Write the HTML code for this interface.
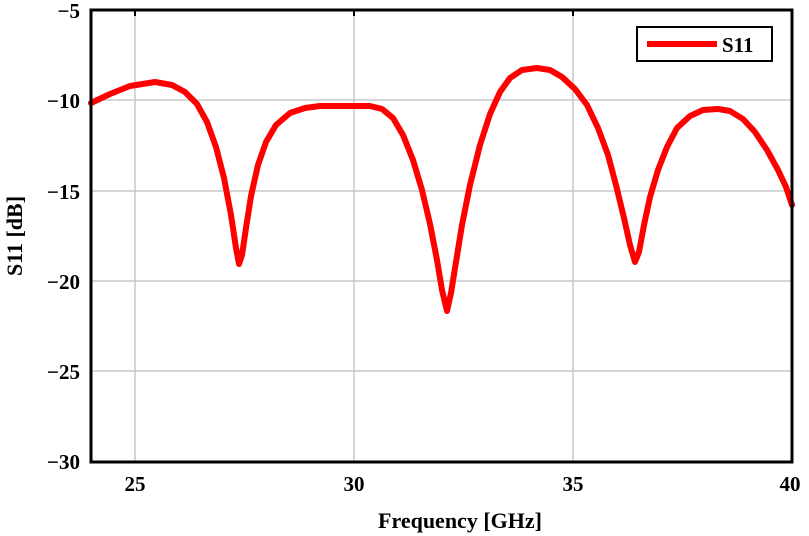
<!DOCTYPE html>
<html><head><meta charset="utf-8"><style>
html,body{margin:0;padding:0;background:#fff;}
svg{display:block;}
text{font-family:"Liberation Serif",serif;font-weight:bold;fill:#000;}
</style></head><body>
<svg width="809" height="536" viewBox="0 0 809 536" xmlns="http://www.w3.org/2000/svg">
<g stroke="#c8c8c8" stroke-width="1.5">
<line x1="135" y1="10" x2="135" y2="462"/>
<line x1="354" y1="10" x2="354" y2="462"/>
<line x1="573" y1="10" x2="573" y2="462"/>
<line x1="91" y1="100" x2="792" y2="100"/>
<line x1="91" y1="191" x2="792" y2="191"/>
<line x1="91" y1="281" x2="792" y2="281"/>
<line x1="91" y1="371" x2="792" y2="371"/>
</g>
<g stroke="#000" stroke-width="2">
<line x1="135" y1="10" x2="135" y2="16"/>
<line x1="354" y1="10" x2="354" y2="16"/>
<line x1="573" y1="10" x2="573" y2="16"/>
</g>
<polyline fill="none" stroke="#ff0000" stroke-width="6" stroke-linejoin="round" stroke-linecap="round"
points="91,103 110,94 130,86 155,82 172,85 185,92 197,104 207,122 216,147 224,178 231,215 236,248 239,264 242,255 246,228 251,196 258,165 266,142 276,125 290,113 305,108 320,106 345,106 370,106 382,109 393,118 403,135 413,160 422,190 430,224 437,260 442,290 447,311 451,293 456,262 462,225 470,185 480,145 490,114 500,92 510,78 522,70 537,68 550,70 562,77 575,89 587,105 598,128 608,155 616,185 624,218 630,245 635,262 639,252 644,225 650,197 658,170 667,147 677,128 690,116 703,110 718,109 730,111 743,119 755,132 767,150 778,170 786,187 792,205"/>
<rect x="91" y="10" width="701" height="452" fill="none" stroke="#000" stroke-width="3"/>
<rect x="637" y="27" width="135" height="34" fill="#fff" stroke="#000" stroke-width="2"/>
<line x1="647" y1="44" x2="717" y2="44" stroke="#ff0000" stroke-width="6"/>
<text x="722" y="52" font-size="21">S11</text>
<g font-size="21" text-anchor="end">
<text x="80" y="18">−5</text>
<text x="80" y="108">−10</text>
<text x="80" y="199">−15</text>
<text x="80" y="289">−20</text>
<text x="80" y="379">−25</text>
<text x="80" y="469">−30</text>
</g>
<g font-size="21" text-anchor="middle">
<text x="135" y="491">25</text>
<text x="354" y="491">30</text>
<text x="573" y="491">35</text>
<text x="790" y="491">40</text>
</g>
<text x="460" y="528" font-size="22" text-anchor="middle">Frequency [GHz]</text>
<text transform="translate(22,236) rotate(-90)" font-size="22" text-anchor="middle">S11 [dB]</text>
</svg>
</body></html>
